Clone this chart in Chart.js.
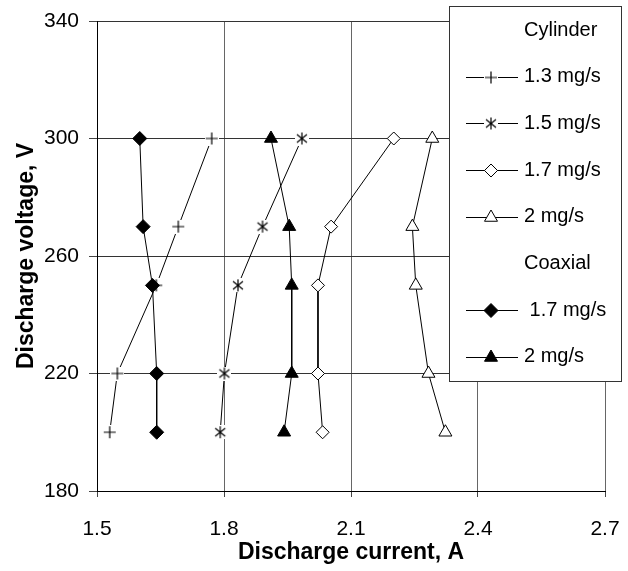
<!DOCTYPE html>
<html>
<head>
<meta charset="utf-8">
<title>Discharge voltage vs current</title>
<script src="https://cdn.jsdelivr.net/npm/chart.js@4/dist/chart.umd.min.js"></script>
<style>
  html, body { margin: 0; padding: 0; background: #fff; }
  #wrap { width: 628px; height: 571px; }
</style>
</head>
<body>
<div id="wrap"><canvas id="chart" width="628" height="571"></canvas></div>
<script>
// data
const voltage = [300, 270, 250, 220, 200];
const cyl13 = [1.771, 1.692, 1.640, 1.548, 1.530];
const cyl15 = [1.984, 1.891, 1.833, 1.801, 1.791];
const cyl17 = [2.201, 2.053, 2.022, 2.022, 2.033];
const cyl20 = [2.292, 2.245, 2.253, 2.283, 2.323];
const coax17 = [1.601, 1.609, 1.631, 1.641, 1.641];
const coax20 = [1.911, 1.954, 1.960, 1.960, 1.942];

const xTicks = [1.5, 1.8, 2.1, 2.4, 2.7];
const yTicks = [180, 220, 260, 300, 340];

const FONT = "Arial, 'Liberation Sans', sans-serif";

// plus / asterisk markers with a white background like the original
function makeMarker(kind) {
  const c = document.createElement('canvas');
  c.width = 14; c.height = 14;
  const g = c.getContext('2d');
  g.fillStyle = '#fff';
  g.fillRect(0, 0, 14, 14);
  g.strokeStyle = '#000';
  g.lineWidth = 1.2;
  g.beginPath();
  if (kind === 'plus') {
    g.moveTo(1, 7); g.lineTo(13, 7);
    g.moveTo(7, 1); g.lineTo(7, 13);
  } else {
    g.moveTo(7, 1); g.lineTo(7, 13);
    g.moveTo(2, 3); g.lineTo(12, 11);
    g.moveTo(12, 3); g.lineTo(2, 11);
  }
  g.stroke();
  return c;
}
const plusImg = makeMarker('plus');
const starImg = makeMarker('star');

function pts(xs) {
  return xs.map((x, i) => ({ x: x, y: voltage[i] }));
}

function series(label, xs, style, radius, fill, order) {
  return {
    label: label,
    data: pts(xs),
    order: order,
    showLine: true,
    fill: false,
    borderColor: '#000',
    borderWidth: 1,
    pointStyle: style,
    pointRadius: radius,
    pointHoverRadius: radius,
    pointBackgroundColor: fill,
    pointBorderColor: '#000',
    pointBorderWidth: 1
  };
}

// later series sit on top, as in the original
const datasets = [
  series('1.3 mg/s', cyl13, plusImg, 6, '#fff', 5),
  series('1.5 mg/s', cyl15, starImg, 6, '#fff', 4),
  series('1.7 mg/s', cyl17, 'rectRot', 6.5, '#fff', 3),
  series('2 mg/s', cyl20, 'triangle', 7.5, '#fff', 2),
  series(' 1.7 mg/s', coax17, 'rectRot', 7, '#000', 1),
  series('2 mg/s', coax20, 'triangle', 7.5, '#000', 0)
];

// legend rows: headers and series
const legendRows = [
  { text: 'Cylinder' },
  { ds: 0 }, { ds: 1 }, { ds: 2 }, { ds: 3 },
  { text: 'Coaxial' },
  { ds: 4 }, { ds: 5 }
];

const boxLegend = {
  id: 'boxLegend',
  afterDraw(chart) {
    const ctx = chart.ctx;
    const left = 449, top = 6, right = 621, bottom = 381;
    ctx.save();
    ctx.fillStyle = '#fff';
    ctx.fillRect(left, top, right - left, bottom - top);
    ctx.strokeStyle = '#333';
    ctx.lineWidth = 1;
    ctx.strokeRect(left + 0.5, top + 0.5, right - left, bottom - top);
    ctx.font = '20px ' + FONT;
    ctx.textBaseline = 'middle';
    ctx.textAlign = 'left';
    legendRows.forEach((row, i) => {
      const y = 30 + i * 46.7;
      if (row.text) {
        ctx.fillStyle = '#000';
        ctx.fillText(row.text, 524, y);
        return;
      }
      const ds = chart.data.datasets[row.ds];
      const ly = Math.round(y);
      ctx.strokeStyle = '#000';
      ctx.lineWidth = 1;
      ctx.beginPath();
      ctx.moveTo(466, ly + 0.5);
      ctx.lineTo(518, ly + 0.5);
      ctx.stroke();
      ctx.fillStyle = ds.pointBackgroundColor;
      ctx.strokeStyle = '#000';
      Chart.helpers.drawPoint(ctx, {
        pointStyle: ds.pointStyle,
        radius: ds.pointRadius,
        borderWidth: 1,
        rotation: 0
      }, 491, ly + 0.5);
      ctx.fillStyle = '#000';
      ctx.fillText(ds.label, 524, y);
    });
    ctx.restore();
  }
};

new Chart(document.getElementById('chart'), {
  type: 'scatter',
  data: { datasets: datasets },
  plugins: [boxLegend],
  options: {
    responsive: false,
    animation: false,
    events: [],
    layout: { padding: { top: 21, right: 23, left: 0, bottom: 0 } },
    plugins: { legend: { display: false }, tooltip: { enabled: false } },
    scales: {
      x: {
        type: 'linear',
        min: 1.5,
        max: 2.7,
        afterBuildTicks: (s) => { s.ticks = xTicks.map(v => ({ value: v })); },
        afterFit: (s) => { s.height = 80; s.paddingLeft = 0; s.paddingRight = 0; },
        ticks: {
          color: '#000',
          font: { family: FONT, size: 21 },
          padding: 20,
          maxRotation: 0,
          callback: (v) => v.toFixed(1)
        },
        grid: { color: '#666', lineWidth: 1, tickLength: 6, tickColor: '#444' },
        border: { color: '#000', width: 1 },
        title: {
          display: true,
          text: 'Discharge current, A',
          color: '#000',
          font: { family: FONT, size: 23, weight: 'bold' },
          padding: { top: 0, bottom: 5 }
        }
      },
      y: {
        type: 'linear',
        min: 180,
        max: 340,
        afterBuildTicks: (s) => { s.ticks = yTicks.map(v => ({ value: v })); },
        afterFit: (s) => { s.width = 97; s.paddingTop = 0; s.paddingBottom = 0; },
        ticks: {
          color: '#000',
          font: { family: FONT, size: 21 },
          padding: 10,
          callback: (v) => String(v)
        },
        grid: { color: '#333', lineWidth: 1, tickLength: 8, tickColor: '#444' },
        border: { color: '#000', width: 1 },
        title: {
          display: true,
          text: 'Discharge voltage, V',
          color: '#000',
          font: { family: FONT, size: 23, weight: 'bold' },
          padding: { top: 13, bottom: 0 }
        }
      }
    }
  }
});
</script>
</body>
</html>
